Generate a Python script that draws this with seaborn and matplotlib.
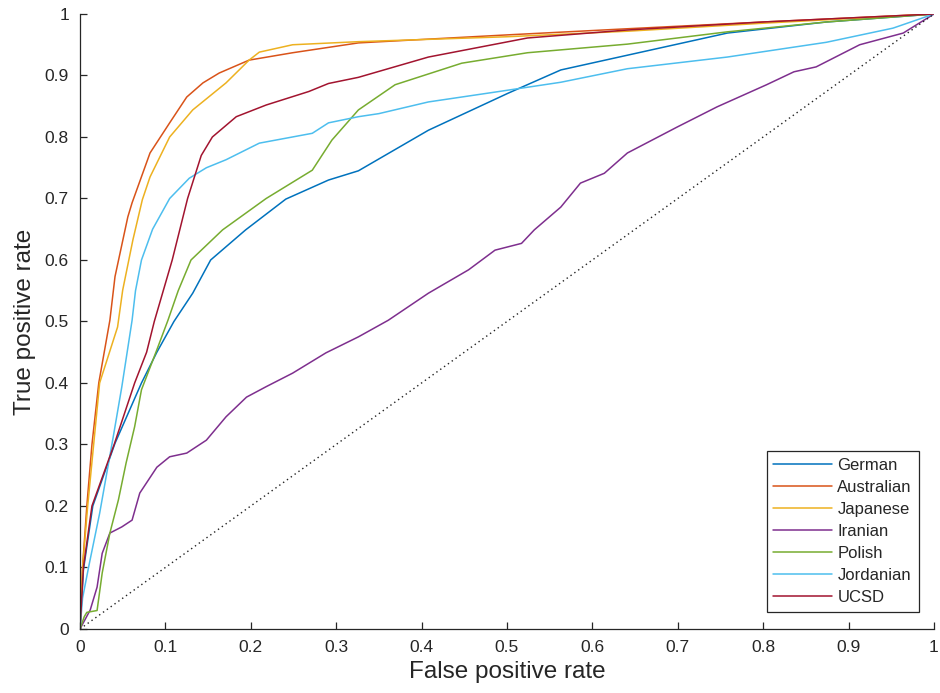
import numpy as np
import pandas as pd
import matplotlib
matplotlib.use("Agg")
import matplotlib.pyplot as plt
import seaborn as sns
from matplotlib.ticker import FormatStrFormatter

# ---- data ----
german_fpr = [0, 0.004, 0.015, 0.041, 0.072, 0.09, 0.11, 0.132, 0.153, 0.194, 0.241, 0.291, 0.326, 0.408, 0.501, 0.563, 0.641, 0.758, 0.874, 1.0]
german_tpr = [0, 0.096, 0.2, 0.302, 0.4, 0.45, 0.5, 0.546, 0.6, 0.649, 0.699, 0.73, 0.745, 0.811, 0.871, 0.909, 0.933, 0.969, 0.987, 1.0]

australian_fpr = [0, 0.003, 0.008, 0.014, 0.022, 0.035, 0.041, 0.056, 0.061, 0.082, 0.105, 0.125, 0.144, 0.163, 0.198, 0.249, 0.326, 0.5, 0.641, 0.8, 1.0]
australian_tpr = [0, 0.1, 0.2, 0.3, 0.4, 0.502, 0.573, 0.67, 0.693, 0.774, 0.823, 0.865, 0.888, 0.904, 0.925, 0.937, 0.953, 0.966, 0.976, 0.987, 1.0]

japanese_fpr = [0, 0.003, 0.009, 0.016, 0.023, 0.044, 0.05, 0.062, 0.073, 0.082, 0.105, 0.132, 0.171, 0.19, 0.198, 0.21, 0.249, 0.326, 0.5, 0.641, 0.8, 1.0]
japanese_tpr = [0, 0.1, 0.2, 0.3, 0.4, 0.491, 0.551, 0.633, 0.698, 0.735, 0.8, 0.844, 0.888, 0.914, 0.925, 0.938, 0.95, 0.955, 0.963, 0.972, 0.985, 1.0]

iranian_fpr = [0, 0.012, 0.02, 0.026, 0.035, 0.049, 0.061, 0.07, 0.09, 0.105, 0.125, 0.148, 0.171, 0.195, 0.218, 0.249, 0.288, 0.326, 0.361, 0.408, 0.455, 0.486, 0.517, 0.532, 0.563, 0.586, 0.614, 0.641, 0.699, 0.746, 0.804, 0.836, 0.862, 0.913, 0.964, 0.979, 1.0]
iranian_tpr = [0, 0.031, 0.068, 0.123, 0.156, 0.166, 0.177, 0.221, 0.263, 0.28, 0.286, 0.307, 0.345, 0.377, 0.394, 0.416, 0.449, 0.475, 0.502, 0.546, 0.584, 0.616, 0.627, 0.649, 0.686, 0.725, 0.741, 0.774, 0.816, 0.849, 0.885, 0.906, 0.914, 0.95, 0.969, 0.982, 1.0]

polish_fpr = [0, 0.005, 0.008, 0.02, 0.026, 0.035, 0.045, 0.054, 0.064, 0.072, 0.09, 0.103, 0.115, 0.13, 0.167, 0.218, 0.272, 0.295, 0.326, 0.369, 0.447, 0.524, 0.641, 0.758, 0.874, 1.0]
polish_tpr = [0, 0.02, 0.027, 0.03, 0.091, 0.156, 0.21, 0.27, 0.329, 0.389, 0.454, 0.502, 0.55, 0.6, 0.649, 0.7, 0.746, 0.795, 0.844, 0.885, 0.92, 0.937, 0.951, 0.971, 0.987, 1.0]

jordanian_fpr = [0, 0.003, 0.01, 0.023, 0.039, 0.049, 0.061, 0.065, 0.072, 0.085, 0.105, 0.128, 0.148, 0.171, 0.21, 0.272, 0.291, 0.326, 0.35, 0.408, 0.486, 0.563, 0.641, 0.758, 0.874, 0.952, 1.0]
jordanian_tpr = [0, 0.05, 0.1, 0.188, 0.313, 0.394, 0.502, 0.55, 0.6, 0.65, 0.7, 0.733, 0.75, 0.763, 0.79, 0.806, 0.823, 0.833, 0.838, 0.857, 0.873, 0.889, 0.911, 0.93, 0.954, 0.977, 1.0]

ucsd_fpr = [0, 0.004, 0.014, 0.04, 0.064, 0.078, 0.087, 0.108, 0.126, 0.142, 0.155, 0.183, 0.218, 0.268, 0.291, 0.326, 0.408, 0.524, 0.641, 0.8, 1.0]
ucsd_tpr = [0, 0.1, 0.2, 0.3, 0.4, 0.45, 0.5, 0.6, 0.7, 0.77, 0.8, 0.833, 0.852, 0.874, 0.887, 0.897, 0.93, 0.961, 0.974, 0.987, 1.0]

chance_fpr = [0, 1]
chance_tpr = [0, 1]

series_names = ["German", "Australian", "Japanese", "Iranian", "Polish", "Jordanian", "UCSD"]
series_fpr = [german_fpr, australian_fpr, japanese_fpr, iranian_fpr, polish_fpr, jordanian_fpr, ucsd_fpr]
series_tpr = [german_tpr, australian_tpr, japanese_tpr, iranian_tpr, polish_tpr, jordanian_tpr, ucsd_tpr]
colors = ["#0072BD", "#D95319", "#EDB120", "#7E2F8E", "#77AC30", "#4DBEEE", "#A2142F"]

tick_values = [0, 0.1, 0.2, 0.3, 0.4, 0.5, 0.6, 0.7, 0.8, 0.9, 1.0]

rows = []
for name, xs, ys in zip(series_names, series_fpr, series_tpr):
    for i, (x, y) in enumerate(zip(xs, ys)):
        rows.append({"series": name, "order": i, "fpr": x, "tpr": y})
df = pd.DataFrame(rows)

sns.set_theme(style="white")
plt.rcParams["font.family"] = ["Liberation Sans", "DejaVu Sans"]

fig = plt.figure(figsize=(9.4, 6.93), dpi=100)
ax = fig.add_axes([0.0851, 0.0924, 0.9085, 0.8874])

sns.lineplot(data=df, x="fpr", y="tpr", hue="series", hue_order=series_names,
             palette=colors, estimator=None, sort=False, units="series",
             linewidth=1.1, ax=ax)
sns.lineplot(x=chance_fpr, y=chance_tpr, color="#222222", linestyle=(0, (1, 2.4)),
             linewidth=1.0, ax=ax, legend=False)

ax.set_xlim(0, 1)
ax.set_ylim(0, 1)
ax.set_xticks(tick_values)
ax.set_yticks(tick_values)
ax.xaxis.set_major_formatter(FormatStrFormatter("%g"))
ax.yaxis.set_major_formatter(FormatStrFormatter("%g"))
ax.tick_params(axis="both", which="major", direction="in", length=5, width=0.9,
               colors="#262626", labelsize=12.5, pad=8, bottom=True, left=True)
sns.despine(ax=ax)
for side in ["left", "bottom"]:
    ax.spines[side].set_color("#262626")
    ax.spines[side].set_linewidth(0.9)

ax.set_xlabel("False positive rate", fontsize=17.5, color="#262626", labelpad=4)
ax.set_ylabel("True positive rate", fontsize=17.5, color="#262626", labelpad=6)

leg = ax.legend(loc="lower right", bbox_to_anchor=(0.982, 0.028), borderaxespad=0,
                fontsize=12, frameon=True, fancybox=False, edgecolor="#262626",
                framealpha=1, handlelength=3.5, labelspacing=0.42, borderpad=0.4,
                handletextpad=0.35)
leg.get_frame().set_linewidth(0.9)
for t in leg.get_texts():
    t.set_color("#262626")

fig.savefig("out.png", dpi=100)
